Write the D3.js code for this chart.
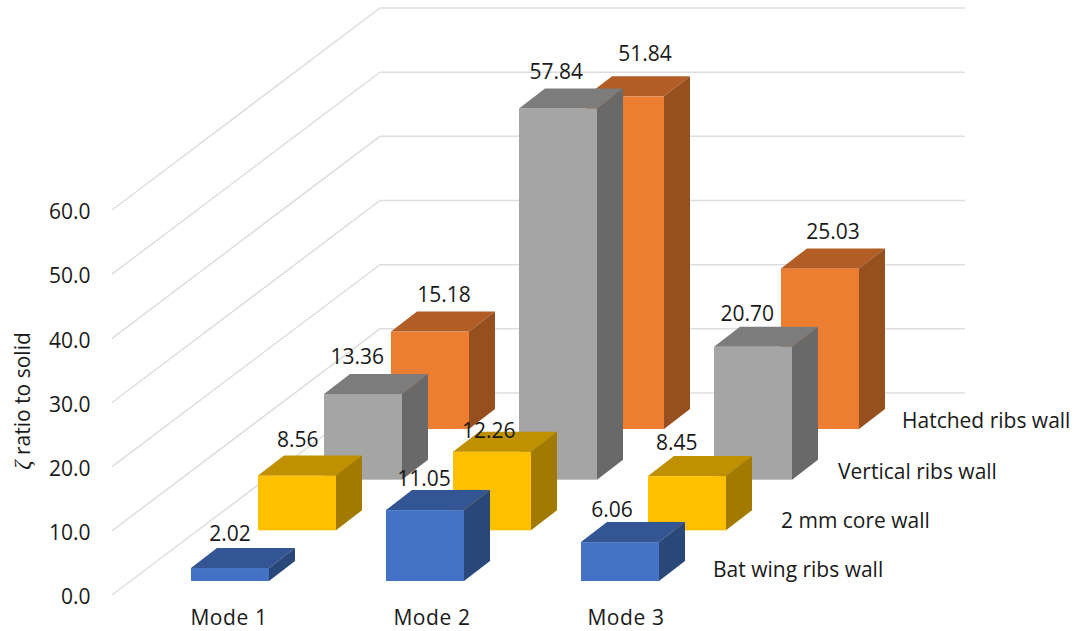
<!DOCTYPE html>
<html>
<head>
<meta charset="utf-8">
<script src="https://cdn.jsdelivr.net/npm/d3@7/dist/d3.min.js"></script>
<style>
  html, body { margin: 0; padding: 0; background: #fff; }
  svg { display: block; }
  text { font-family: "Open Sans", sans-serif; fill: #1a1a1a; }
</style>
</head>
<body>
<svg id="chart" width="1075" height="631"></svg>
<script>
// Data, listed from the front row to the back row of the 3-D chart.
const modes = ["Mode 1", "Mode 2", "Mode 3"];
const seriesNames = ["Bat wing ribs wall", "2 mm core wall", "Vertical ribs wall", "Hatched ribs wall"];
const batWing = [2.02, 11.05, 6.06];
const coreWall = [8.56, 12.26, 8.45];
const verticalRibs = [13.36, 57.84, 20.70];
const hatchedRibs = [15.18, 51.84, 25.03];
const valueTicks = [0, 10, 20, 30, 40, 50, 60];

const seriesValues = [batWing, coreWall, verticalRibs, hatchedRibs];

// Face colours per row: front, top, side.
const faceColours = [
  ["#4472c4", "#335593", "#2a4779"],
  ["#ffc000", "#bf9000", "#a37a00"],
  ["#a5a5a5", "#7c7c7c", "#696969"],
  ["#ed7d31", "#b25d25", "#964f1e"]
];

// Hand-placed label nudges [dx, dy] per row and mode, as in the original layout.
const labelNudges = [
  [[0, 2], [-1, 5], [-8, 4]],
  [[1, 1], [-3, 15], [-10, 3]],
  [[-6, -1], [-2, -1], [-6, 3]],
  [[14, -1], [20, -6], [13, 0]]
];
const seriesLabelAnchors = [[713, 570], [781, 521], [838, 472], [902, 421]];
const modeLabelCentres = [229, 432, 626];

const svg = d3.select("#chart");

// Projection: value maps to height, row maps to a shift up and to the right.
const y = d3.scaleLinear().domain([0, 60]).range([595, 210]);
const xMode = d3.scalePoint().domain(modes).range([191, 581]);
const rowX = d3.scalePoint().domain(seriesNames).range([0, 200]);
const rowY = d3.scalePoint().domain(seriesNames).range([581, 429]);
const barWidth = 78;
const depthX = 26;
const depthY = 20;
const wallX0 = 112;
const wallX1 = 380;
const wallX2 = 965;
const wallRise = 202;
const unit = y(0) - y(1);

// Side wall and back wall gridlines.
const grid = svg.append("g")
  .attr("fill", "none")
  .attr("stroke", "#dedede")
  .attr("stroke-width", 1.5);
grid.selectAll("path")
  .data(valueTicks)
  .join("path")
  .attr("d", v => d3.line()([
    [wallX0, y(v)],
    [wallX1, y(v) - wallRise],
    [wallX2, y(v) - wallRise]
  ]));

// Value axis labels.
const axis = svg.append("g")
  .attr("transform", "translate(90.5,2)")
  .call(d3.axisLeft(y).tickValues(valueTicks).tickFormat(d3.format(".1f")).tickSize(0).tickPadding(0));
axis.select(".domain").remove();
axis.selectAll("text").style("font-size", "21px").style("font-family", '"Open Sans", sans-serif').attr("fill", "#1a1a1a");

// Axis title with the Greek symbol set in an italic serif.
const title = svg.append("text")
  .attr("transform", "translate(30,401) rotate(-90)")
  .attr("text-anchor", "middle")
  .style("font-size", "21px");
title.append("tspan").text("ζ")
  .style("font-family", '"Liberation Serif", serif')
  .style("font-style", "italic")
  .style("font-size", "23px");
title.append("tspan").text(" ratio to solid");

// Boxes drawn from the back row forward so nearer ones overlap farther ones.
const rows = d3.range(seriesNames.length).reverse();
rows.forEach(r => {
  const name = seriesNames[r];
  const [front, top, side] = faceColours[r];
  const g = svg.append("g");
  modes.forEach((m, i) => {
    const v = seriesValues[r][i];
    const x0 = Math.round(xMode(m) + rowX(name));
    const base = rowY(name);
    const h = v * unit;
    const t = base - h;
    const x1 = x0 + barWidth;
    g.append("rect").attr("x", x0).attr("y", t).attr("width", barWidth).attr("height", h).attr("fill", front);
    g.append("polygon").attr("fill", top).attr("points", [
      [x0, t], [x0 + depthX, t - depthY], [x1 + depthX, t - depthY], [x1, t]
    ].join(" "));
    g.append("polygon").attr("fill", side).attr("points", [
      [x1, t], [x1 + depthX, t - depthY], [x1 + depthX, base - depthY], [x1, base]
    ].join(" "));
  });
});

// Value labels sit above the boxes and are drawn last.
rows.forEach(r => {
  const name = seriesNames[r];
  modes.forEach((m, i) => {
    const v = seriesValues[r][i];
    const [dx, dy] = labelNudges[r][i];
    svg.append("text")
      .attr("x", xMode(m) + rowX(name) + barWidth / 2 + dx)
      .attr("y", rowY(name) - v * unit - depthY - 9 + dy)
      .attr("text-anchor", "middle")
      .style("font-size", "21px")
      .text(d3.format(".2f")(v));
  });
});

// Category labels under the front row.
svg.append("g").selectAll("text")
  .data(modes)
  .join("text")
  .attr("x", (d, i) => modeLabelCentres[i])
  .attr("y", 624.5)
  .attr("text-anchor", "middle")
  .style("font-size", "21px")
  .style("letter-spacing", "0.6px")
  .text(d => d);

// Row names to the right of the last boxes.
svg.append("g").selectAll("text")
  .data(seriesNames)
  .join("text")
  .attr("x", (d, i) => seriesLabelAnchors[i][0])
  .attr("y", (d, i) => seriesLabelAnchors[i][1])
  .attr("dy", "0.35em")
  .style("font-size", "21px")
  .text(d => d);
</script>
</body>
</html>
